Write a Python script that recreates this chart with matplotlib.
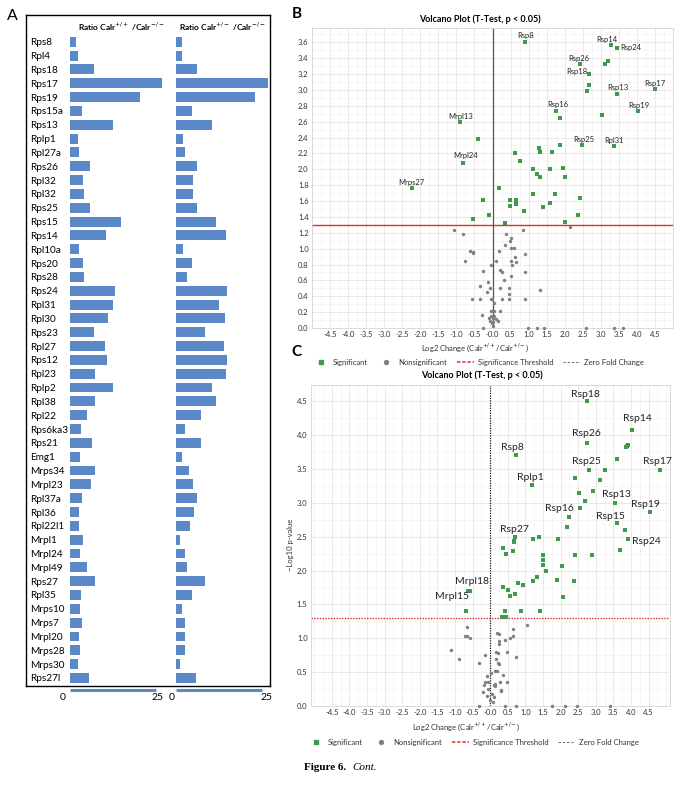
import matplotlib
matplotlib.use('Agg')
import matplotlib.pyplot as plt
from matplotlib.lines import Line2D
from matplotlib.transforms import blended_transform_factory
import numpy as np

W, H = 686, 785
plt.rcParams['font.family'] = ['Lato', 'DejaVu Sans']

# ---------------- Panel A data ----------------
genes = ["Rps8", "Rpl4", "Rps18", "Rps17", "Rps19", "Rps15a", "Rps13", "Rplp1", "Rpl27a",
         "Rps26", "Rpl32", "Rpl32", "Rps25", "Rps15", "Rps14", "Rpl10a", "Rps20", "Rps28",
         "Rps24", "Rpl31", "Rpl30", "Rps23", "Rpl27", "Rps12", "Rpl23", "Rplp2", "Rpl38",
         "Rpl22", "Rps6ka3", "Rps21", "Emg1", "Mrps34", "Mrpl23", "Rpl37a", "Rpl36",
         "Rpl22l1", "Mrpl1", "Mrpl24", "Mrpl49", "Rps27", "Rpl35", "Mrps10", "Mrps7",
         "Mrpl20", "Mrps28", "Mrps30", "Rps27l"]
ratio_wt_ko = [1.8, 2.4, 7.0, 26.6, 20.3, 3.4, 12.4, 2.4, 2.7, 5.9, 3.9, 4.0, 5.9, 14.9,
               10.4, 2.7, 3.9, 4.2, 13.2, 12.6, 11.1, 6.9, 10.2, 10.7, 7.4, 12.6, 7.2, 4.8,
               3.2, 6.4, 2.9, 7.2, 6.2, 3.6, 2.7, 2.7, 3.7, 2.9, 4.9, 7.4, 3.2, 2.9, 3.4,
               2.7, 2.9, 2.4, 5.4]
ratio_het_ko = [1.6, 1.7, 6.0, 26.6, 23.0, 4.7, 10.5, 2.0, 2.5, 6.0, 4.9, 4.9, 6.0, 11.7,
                14.5, 2.0, 4.7, 3.2, 14.7, 12.5, 14.2, 8.4, 14.0, 14.7, 14.4, 10.5, 11.7,
                7.3, 2.5, 7.3, 1.7, 3.8, 4.9, 6.2, 5.2, 4.0, 1.3, 2.5, 3.2, 8.4, 4.5, 1.7,
                2.5, 2.7, 2.7, 1.3, 5.7]
bar_scale_ticks = [0, 25]

# ---------------- Panel B data ----------------
b_sig_x = [0.89, 3.27, 3.44, 3.20, 3.13, 2.43, 2.66, 2.66, 2.63, 3.46, 4.49, 1.75, 1.86,
           3.04, 4.04, -0.91, -0.39, -0.82, 2.47, 3.37, 1.88, 1.30, 1.32, 1.66, 0.63,
           0.77, 1.13, 1.58, 1.95, 1.24, 1.32, 2.01, -2.24, 0.17, 1.13, 1.73, 2.43,
           -0.25, 0.49, 0.64, 0.64, 0.49, 1.58, 1.40, 0.88, -0.11, 2.37, -0.55, 2.01, 0.35]
b_sig_y = [3.60, 3.56, 3.53, 3.37, 3.33, 3.33, 3.20, 3.06, 2.98, 2.95, 3.01, 2.74, 2.64,
           2.68, 2.74, 2.59, 2.38, 2.08, 2.30, 2.29, 2.31, 2.27, 2.22, 2.22, 2.21,
           2.10, 2.00, 2.00, 2.02, 1.94, 1.90, 1.90, 1.77, 1.77, 1.69, 1.69, 1.64,
           1.61, 1.61, 1.61, 1.56, 1.54, 1.57, 1.52, 1.48, 1.42, 1.42, 1.37, 1.33, 1.32]
b_ns_x = [2.16, -1.06, 0.85, -0.82, 0.38, 0.51, 0.48, 0.34, 0.52, 0.59, -0.63, -0.55, -0.53,
          0.18, 0.90, 0.63, 0.52, 0.66, -0.76, 0.11, 0.55, -0.04, -0.25, 0.22, 0.25, 0.90,
          0.52, 0.31, -0.12, -0.34, -0.07, 0.22, 0.45, 1.32, -0.15, 0.46, -0.56, -0.34,
          -0.04, -0.02, 0.25, 0.45, 0.90, 0.05, -0.04, 0.05, 0.22, -0.30, -0.03, 0.05,
          -0.10, 0.00, 0.09, -0.07, 0.02, 0.14, -0.01, 0.00, -0.26, 0.99, 1.23, 1.43,
          2.58, 3.37, 3.62]
b_ns_y = [1.27, 1.24, 1.24, 1.19, 1.19, 1.14, 1.09, 1.05, 1.01, 1.01, 0.97, 0.96, 0.94,
          0.97, 0.93, 0.89, 0.85, 0.83, 0.84, 0.84, 0.80, 0.80, 0.72, 0.73, 0.71, 0.70,
          0.65, 0.61, 0.58, 0.53, 0.51, 0.50, 0.50, 0.48, 0.45, 0.43, 0.37, 0.37,
          0.37, 0.37, 0.37, 0.37, 0.37, 0.32, 0.22, 0.22, 0.22, 0.17, 0.15, 0.15,
          0.12, 0.12, 0.11, 0.09, 0.08, 0.09, 0.06, 0.03, 0.0, 0.0, 0.0, 0.0,
          0.0, 0.0, 0.0]
b_lab_names = ["Rsp8", "Rsp14", "Rsp24", "Rsp26", "Rsp18", "Rsp13", "Rsp17", "Rsp16",
               "Rsp19", "Mrpl13", "Rsp25", "Rpl31", "Mrpl24", "Mrps27"]
b_lab_x = [0.89, 3.27, 3.44, 2.43, 2.66, 3.46, 4.49, 1.75, 4.04, -0.91, 2.47, 3.37, -0.82, -2.24]
b_lab_y = [3.60, 3.56, 3.53, 3.33, 3.20, 2.95, 3.01, 2.74, 2.74, 2.59, 2.30, 2.29, 2.08, 1.77]

# ---------------- Panel C data ----------------
c_sig_x = [2.76, 4.04, 3.91, 3.88, 3.86, 2.76, 0.74, 3.60, 2.80, 3.26, 4.82, 2.41, 3.13,
           1.18, 2.52, 2.91, 2.70, 3.54, 2.55, 4.55, 2.24, 3.61, 2.17, 3.84, 3.92, 0.72,
           0.69, 0.69, 1.40, 1.21, 1.94, 3.68, 0.36, 0.65, 0.46, 1.51, 1.51, 1.51, 1.59,
           2.40, 2.90, 2.04, 1.33, 1.21, 1.89, 2.37, 0.78, 0.92, 0.37, 0.52, 0.72, 0.56,
           2.06, -0.56, -0.62, -0.69, 0.43, 0.87, 1.41, 0.34, 0.37, 0.42, 0.45]
c_sig_y = [4.51, 4.08, 3.86, 3.84, 3.82, 3.88, 3.70, 3.65, 3.48, 3.48, 3.48, 3.36, 3.34,
           3.26, 3.15, 3.18, 3.03, 3.00, 2.92, 2.86, 2.79, 2.70, 2.64, 2.60, 2.46, 2.50,
           2.44, 2.42, 2.50, 2.46, 2.46, 2.30, 2.34, 2.29, 2.24, 2.23, 2.15, 2.08, 2.00,
           2.23, 2.23, 2.06, 1.91, 1.85, 1.86, 1.84, 1.81, 1.79, 1.76, 1.71, 1.65, 1.63,
           1.61, 1.70, 1.70, 1.41, 1.41, 1.41, 1.41, 1.31, 1.31, 1.31, 1.31]
c_ns_x = [1.06, -0.67, 0.19, 0.26, 0.64, 0.64, 0.57, -0.71, -0.65, -0.56, 0.43, 0.25, 0.25,
          -1.10, 0.16, 0.22, 0.48, -0.16, 0.74, -0.88, 0.16, 0.22, 0.24, -0.31, 0.14, 0.19,
          0.02, -0.10, 0.36, -0.15, -0.06, 0.15, 0.10, 0.15, 0.29, 0.47, -0.18, -0.07,
          0.30, 0.31, -0.19, 0.06, -0.10, 0.10, 0.00, 0.07, -0.31, 0.43, 0.74, 1.75,
          2.13, 2.46, 3.41]
c_ns_y = [1.19, 1.17, 1.08, 1.06, 1.13, 1.04, 1.01, 1.04, 1.04, 1.01, 0.98, 0.96, 0.91,
          0.83, 0.80, 0.79, 0.80, 0.76, 0.72, 0.69, 0.69, 0.64, 0.62, 0.63, 0.52, 0.52,
          0.49, 0.44, 0.46, 0.35, 0.35, 0.33, 0.31, 0.29, 0.35, 0.35, 0.31, 0.25,
          0.24, 0.22, 0.20, 0.17, 0.15, 0.13, 0.09, 0.06, 0.0, 0.0, 0.0, 0.0,
          0.0, 0.0, 0.0]
c_lab_names = ["Rsp18", "Rsp14", "Rsp26", "Rsp8", "Rsp25", "Rsp17", "Rplp1", "Rsp13",
               "Rsp19", "Rsp16", "Rsp15", "Rsp27", "Rsp24", "Mrpl18", "Mrpl15"]
c_lab_x = [2.76, 4.04, 2.76, 0.74, 2.80, 4.82, 1.18, 3.54, 4.55, 2.55, 3.61, 0.72, 3.92, -0.56, -0.62]
c_lab_y = [4.51, 4.08, 3.88, 3.70, 3.48, 3.48, 3.26, 3.00, 2.86, 2.92, 2.70, 2.50, 2.46, 1.70, 1.70]

x_ticks = [-4.5, -4.0, -3.5, -3.0, -2.5, -2.0, -1.5, -1.0, -0.5, 0.0, 0.5, 1.0, 1.5, 2.0,
           2.5, 3.0, 3.5, 4.0, 4.5]
x_tick_labels = ["-4.5", "-4.0", "-3.5", "-3.0", "-2.5", "-2.0", "-1.5", "-1.0", "-0.5",
                 "-0.0", "0.5", "1.0", "1.5", "2.0", "2.5", "3.0", "3.5", "4.0", "4.5"]
b_y_ticks = [0.0, 0.2, 0.4, 0.6, 0.8, 1.0, 1.2, 1.4, 1.6, 1.8, 2.0, 2.2, 2.4, 2.6, 2.8,
             3.0, 3.2, 3.4, 3.6]
c_y_ticks = [0.0, 0.5, 1.0, 1.5, 2.0, 2.5, 3.0, 3.5, 4.0, 4.5]
threshold = 1.301

# ---------------- styles ----------------
BAR = '#5b88c6'
GREEN = '#3f9a4c'
GREY = '#808080'
RED = '#e0302c'

b_lab_off = [(0.6, -6.3), (-3.7, -6.3), (14, 0), (-1.7, -5.7), (-11.7, -2.3), (0, -6.3),
             (0, -5.7), (2, -6), (0, -5), (1.3, -6.3), (2.6, -6.3), (0, -5.4), (2.7, -7), (0, -5)]
c_lab_off = [(-1.7, -6.4), (5, -10.7), (-0.7, -9.6), (-3.3, -8), (-2.4, -8.6), (-2.7, -8.6),
             (-1, -8), (1.3, -8), (-5.3, -7.7), (-20.4, 0), (-6.7, -6.3), (-1.3, -7.6),
             (18.7, 1.7), (1.4, -9), (-16, 5.6)]

fig = plt.figure(figsize=(W / 100, H / 100), dpi=100)


def ax_px(x0, y0, x1, y1):
    return fig.add_axes([x0 / W, 1 - y1 / H, (x1 - x0) / W, (y1 - y0) / H])


def fx(x):
    return x / W


def fy(y):
    return 1 - y / H


# ================= Panel A =================
box = ax_px(26, 15, 270, 686)
box.set_xticks([]); box.set_yticks([])
box.patch.set_alpha(0)
for s in box.spines.values():
    s.set_color('black'); s.set_linewidth(1.0)

n = len(genes)
rows = np.arange(n)
bar_axes = []
for (x0, vals) in [(70, ratio_wt_ko), (176, ratio_het_ko)]:
    a = ax_px(x0, 34.8, x0 + 93, 684.9)
    a.barh(rows, vals, height=0.72, color=BAR)
    a.set_xlim(0, 27)
    a.set_ylim(n - 0.5, -0.5)
    a.patch.set_alpha(0)
    for s in a.spines.values():
        s.set_visible(False)
    a.set_xticks([])
    a.set_yticks([])
    tr = blended_transform_factory(a.transData, fig.transFigure)
    a.plot(bar_scale_ticks, [fy(690)] * 2, transform=tr, color=BAR, lw=2.2,
           clip_on=False, solid_capstyle='butt')
    bar_axes.append(a)

axL, axR = bar_axes
axL.set_yticks(rows)
axL.set_yticklabels(genes, ha='left', fontsize=7.2)
axL.tick_params(axis='y', length=0, pad=(70 - 30) * 0.72)

for a, off0, off25 in [(axL, -2.0, 25.3), (axR, -1.2, 26.2)]:
    tr = blended_transform_factory(a.transData, fig.transFigure)
    a.text(off0, fy(697), str(bar_scale_ticks[0]), transform=tr, ha='center', va='center', fontsize=7.5)
    a.text(off25, fy(697), str(bar_scale_ticks[1]), transform=tr, ha='center', va='center', fontsize=7.5)

fig.text(fx(121), fy(27), r'Ratio Calr$^{+/+}$ /Calr$^{-/-}$', ha='center', va='center',
         fontsize=6, fontweight='bold')
fig.text(fx(222), fy(27), r'Ratio Calr$^{+/-}$ /Calr$^{-/-}$', ha='center', va='center',
         fontsize=6, fontweight='bold')

fig.text(fx(12), fy(16), 'A', fontsize=11.5, ha='center', va='center')
fig.text(fx(297), fy(14), 'B', fontsize=11, ha='center', va='center', fontweight='bold')
fig.text(fx(296), fy(352), 'C', fontsize=11, ha='center', va='center', fontweight='bold')


# ================= Volcano panels =================
def volcano(axv, sx, sy, nx, ny, yt, xlim, ylim, zero_style, thr_style, minor_y):
    axv.set_xlim(*xlim)
    axv.set_ylim(*ylim)
    axv.set_xticks(x_ticks)
    axv.set_xticklabels(x_tick_labels)
    axv.set_yticks(yt)
    axv.set_yticklabels(['%.1f' % v for v in yt])
    axv.set_xticks(np.arange(-5.0, 5.01, 0.25), minor=True)
    axv.set_yticks(np.arange(0, ylim[1], minor_y), minor=True)
    axv.tick_params(which='both', length=0, labelsize=5.5, pad=2.5, colors='#333333')
    axv.grid(which='major', color='#e2e2e2', lw=0.5)
    axv.grid(which='minor', color='#eeeeee', lw=0.4)
    axv.set_axisbelow(True)
    for s in axv.spines.values():
        s.set_color('#d4d4d4'); s.set_linewidth(0.6)
    axv.axhline(threshold, **thr_style)
    axv.axvline(0, **zero_style)
    axv.scatter(nx, ny, s=6, marker='o', color=GREY, linewidths=0, zorder=3, clip_on=False)
    axv.scatter(sx, sy, s=6, marker='s', color=GREEN, linewidths=0, zorder=3)


def legend_at(ycen, xcen):
    handles = [Line2D([], [], marker='s', color=GREEN, ls='none', ms=2.3),
               Line2D([], [], marker='o', color=GREY, ls='none', ms=2.8),
               Line2D([], [], color=RED, ls='--', lw=1.1, dashes=(2.2, 1.2)),
               Line2D([], [], color='#777777', ls='--', lw=0.8, dashes=(2.2, 1.6))]
    labels = ['Significant', 'Nonsignificant', 'Significance Threshold', 'Zero Fold Change']
    fig.legend(handles, labels, loc='center', bbox_to_anchor=(fx(xcen), fy(ycen)), ncol=4,
               frameon=False, fontsize=5.5, handlelength=2.2, handletextpad=0.5,
               columnspacing=1.3, borderpad=0, labelcolor='#333333')


# ---- B ----
axB = ax_px(312, 28, 673, 328)
volcano(axB, b_sig_x, b_sig_y, b_ns_x, b_ns_y, b_y_ticks, (-4.66, 4.85), (0, 3.78),
        dict(color='#555555', lw=0.9, zorder=2),
        dict(color=RED, lw=1.0, zorder=2), 0.1)
for name, x, y, (dx, dy) in zip(b_lab_names, b_lab_x, b_lab_y, b_lab_off):
    axB.annotate(name, (x, y), xytext=(dx * 0.72, -dy * 0.72), textcoords='offset points',
                 ha='center', va='center', fontsize=5.5, color='#222222')
fig.text(fx(480), fy(19), 'Volcano Plot (T-Test, p < 0.05)', ha='center', va='center',
         fontsize=6.5, fontweight='bold')
fig.text(fx(475), fy(348), r'Log2 Change (Calr$^{+/+}$/Calr$^{+/-}$)', ha='center', va='center',
         fontsize=5.5, color='#333333')
legend_at(362, 478)

# ---- C ----
axC = ax_px(311, 385, 670, 706)
volcano(axC, c_sig_x, c_sig_y, c_ns_x, c_ns_y, c_y_ticks, (-5.09, 5.11), (0, 4.74),
        dict(color='#222222', lw=0.9, ls=(0, (1, 1)), zorder=2),
        dict(color=RED, lw=1.0, ls=(0, (1, 1)), zorder=2), 0.25)
for name, x, y, (dx, dy) in zip(c_lab_names, c_lab_x, c_lab_y, c_lab_off):
    axC.annotate(name, (x, y), xytext=(dx * 0.72, -dy * 0.72), textcoords='offset points',
                 ha='center', va='center', fontsize=7.5, color='#222222')
fig.text(fx(482), fy(375), 'Volcano Plot (T-Test, p < 0.05)', ha='center', va='center',
         fontsize=6.5, fontweight='bold')
fig.text(fx(466), fy(727), r'Log2 Change (Calr$^{+/+}$/Calr$^{+/-}$)', ha='center', va='center',
         fontsize=5.5, color='#333333')
fig.text(fx(291), fy(545), '\u2212Log10 p-value', rotation=90, ha='center', va='center',
         fontsize=5.5, color='#333333')
legend_at(742, 473)

fig.text(fx(304), fy(768), 'Figure 6.', ha='left', va='center', fontsize=8,
         family=['Liberation Serif', 'DejaVu Serif'], fontweight='bold')
fig.text(fx(352), fy(768), 'Cont.', ha='left', va='center', fontsize=8,
         family=['Liberation Serif', 'DejaVu Serif'], style='italic')

fig.savefig('out.png', dpi=100)
